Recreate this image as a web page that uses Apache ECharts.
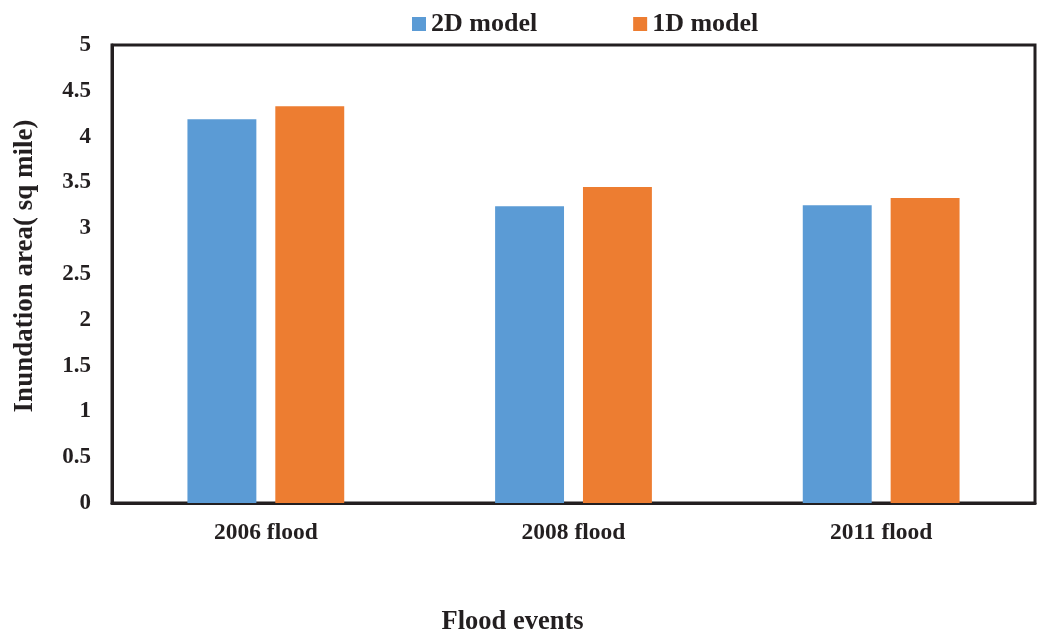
<!DOCTYPE html>
<html>
<head>
<meta charset="utf-8">
<script src="https://cdn.jsdelivr.net/npm/echarts@6/dist/echarts.min.js"></script>
<style>html,body{margin:0;padding:0;background:#fff}#c{width:1037px;height:634px}</style>
</head>
<body>
<div id="c"></div>
<script>
const categories = ['2006 flood', '2008 flood', '2011 flood'];
const model2D = [4.19, 3.24, 3.25];
const model1D = [4.33, 3.45, 3.33];
const yTicks = [0, 0.5, 1, 1.5, 2, 2.5, 3, 3.5, 4, 4.5, 5];

const font = 'Liberation Serif';
const chart = echarts.init(document.getElementById('c'), null, {renderer: 'canvas'});
chart.setOption({
  animation: false,
  backgroundColor: '#fff',
  textStyle: {fontFamily: font},
  legend: {
    left: 407, top: 6,
    itemWidth: 14, itemHeight: 14, itemGap: 96,
    icon: 'rect',
    textStyle: {fontFamily: font, fontSize: 26, fontWeight: 'bold', color: '#231f20'},
    data: ['2D model', '1D model']
  },
  grid: {left: 112, right: 2, top: 45, bottom: 131, show: true, borderColor: '#231f20', borderWidth: 3,
    containLabel: false, outerBoundsMode: 'none'},
  xAxis: {
    type: 'category', data: categories,
    axisLine: {lineStyle: {color: '#231f20', width: 3}},
    axisTick: {show: false},
    axisLabel: {fontFamily: font, fontSize: 23.5, fontWeight: 'bold', color: '#231f20', margin: 18},
    name: 'Flood events', nameLocation: 'middle', nameGap: 106,
    nameTextStyle: {fontFamily: font, fontSize: 26.5, fontWeight: 'bold', color: '#231f20', padding: [0, 122, 0, 0]}
  },
  yAxis: {
    type: 'value', min: 0, max: 5, interval: 0.5,
    axisLine: {show: true, lineStyle: {color: '#231f20', width: 3}},
    axisTick: {show: false},
    splitLine: {show: false},
    axisLabel: {fontFamily: font, fontSize: 23, fontWeight: 'bold', color: '#231f20', margin: 21,
      formatter: v => String(yTicks.find(t => Math.abs(t - v) < 1e-9) ?? v)},
    name: 'Inundation area( sq mile)', nameLocation: 'middle', nameGap: 73, nameRotate: 90,
    nameTextStyle: {fontFamily: font, fontSize: 27, fontWeight: 'bold', color: '#231f20', padding: [0, 0, 0, 16]}
  },
  series: [
    {name: '2D model', type: 'bar', data: model2D, barWidth: '22.4%', barGap: '27.5%', itemStyle: {color: '#5B9BD5'}},
    {name: '1D model', type: 'bar', data: model1D, barWidth: '22.4%', barGap: '27.5%', itemStyle: {color: '#ED7D31'}}
  ]
});
</script>
</body>
</html>
